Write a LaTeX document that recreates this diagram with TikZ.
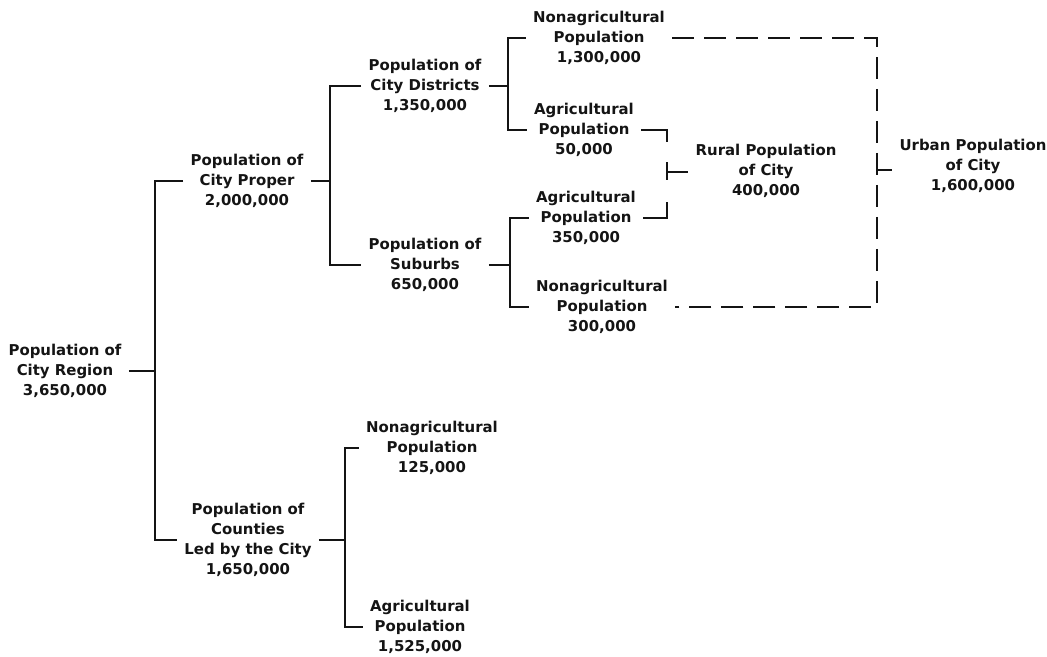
\documentclass[tikz,border=0pt]{standalone}
\usepackage{fontspec}
\setsansfont{DejaVu Sans}
\usepackage{xcolor}
\usepackage{tikz}
\usetikzlibrary{calc}
\definecolor{inkblack}{RGB}{20,20,20}

\begin{document}
\begin{tikzpicture}[x=0.02cm, y=-0.02cm,
    pop/.style={align=center, text=inkblack, inner xsep=4pt, inner ysep=0pt, font=\sffamily\bfseries\fontsize{8.5}{11.3}\selectfont},
    link/.style={draw=inkblack, line width=1.6pt},
    urbanlink/.style={link, dash pattern=on 12.5pt off 5.7pt}]
    \useasboundingbox (0,0) rectangle (1047,656);

    % population groups
    \node[pop] (region) at (65,371) {Population of\\City Region\\3,650,000};
    \node[pop] (proper) at (247,181) {Population of\\City Proper\\2,000,000};
    \node[pop] (counties) at (248,540) {Population of\\Counties\\Led by the City\\1,650,000};
    \node[pop] (districts) at (425,86) {Population of\\City Districts\\1,350,000};
    \node[pop] (suburbs) at (425,265) {Population of\\Suburbs\\650,000};
    \node[pop] (nonagdist) at (599,38) {Nonagricultural\\Population\\1,300,000};
    \node[pop] (agdist) at (584,130) {Agricultural\\Population\\50,000};
    \node[pop] (agsub) at (586,218) {Agricultural\\Population\\350,000};
    \node[pop] (nonagsub) at (602,307) {Nonagricultural\\Population\\300,000};
    \node[pop] (nonagcty) at (432,448) {Nonagricultural\\Population\\125,000};
    \node[pop] (agcty) at (420,627) {Agricultural\\Population\\1,525,000};
    \node[pop] (rural) at (766,171) {Rural Population\\of City\\400,000};
    \node[pop] (urban) at (973,166) {Urban Population\\of City\\1,600,000};

    % bracket joints
    \coordinate (jregion) at (155,369);
    \coordinate (jproper) at (330,180);
    \coordinate (jcounties) at (345,536);
    \coordinate (jdistricts) at (508,84);
    \coordinate (jsuburbs) at (510,265);
    \coordinate (jrural) at (667,172);
    \coordinate (jurban) at (877,170);

    \draw[link] (region.east) -- (region.east -| jregion);
    \draw[link] (proper.west) -| (jregion) |- (counties.west);
    \draw[link] (proper.east) -- (proper.east -| jproper);
    \draw[link] (districts.west) -| (jproper) |- (suburbs.west);
    \draw[link] (counties.east) -- (counties.east -| jcounties);
    \draw[link] (nonagcty.west) -| (jcounties) |- (agcty.west);
    \draw[link] (districts.east) -- (districts.east -| jdistricts);
    \draw[link] (nonagdist.west) -| (jdistricts) |- (agdist.west);
    \draw[link] (suburbs.east) -- (suburbs.east -| jsuburbs);
    \draw[link] (agsub.west) -| (jsuburbs) |- (nonagsub.west);

    % rural bracket, broken
    \draw[link] (agdist.east) -- (agdist.east -| jrural) -- ++(0,12);
    \draw[link] (jrural) ++(0,-10) -- ++(0,18);
    \draw[link] (jrural) -- (jrural -| rural.west);
    \draw[link] (agsub.east) -- (agsub.east -| jrural) -- ++(0,-16);

    % urban bracket, dashed
    \draw[urbanlink] (nonagdist.east) -- (nonagdist.east -| jurban) -- (nonagsub.east -| jurban) -- (nonagsub.east);
    \draw[link] (jurban) -- (jurban -| urban.west);
\end{tikzpicture}
\end{document}
